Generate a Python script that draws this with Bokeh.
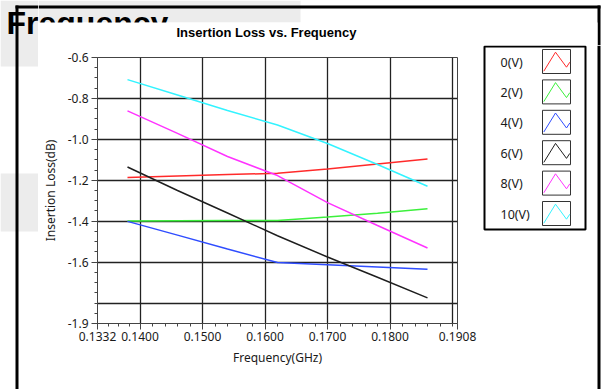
from bokeh.plotting import figure
from bokeh.layouts import row, column
from bokeh.models import Range1d, FixedTicker, PrintfTickFormatter
from bokeh.core.properties import value
from bokeh.embed import file_html
from bokeh.resources import INLINE

# ---------------- data ----------------
freq_ghz = [0.138, 0.146, 0.154, 0.162, 0.170, 0.178, 0.186]
loss_0v = [-1.186, -1.179, -1.172, -1.166, -1.145, -1.120, -1.096]
loss_2v = [-1.399, -1.398, -1.397, -1.397, -1.380, -1.361, -1.339]
loss_4v = [-1.401, -1.468, -1.536, -1.602, -1.613, -1.624, -1.635]
loss_6v = [-1.135, -1.250, -1.360, -1.471, -1.575, -1.674, -1.775]
loss_8v = [-0.861, -0.971, -1.084, -1.177, -1.309, -1.421, -1.531]
loss_10v = [-0.708, -0.783, -0.859, -0.930, -1.020, -1.123, -1.229]
series_names = ["0(V)", "2(V)", "4(V)", "6(V)", "8(V)", "10(V)"]
series_values = [loss_0v, loss_2v, loss_4v, loss_6v, loss_8v, loss_10v]
series_colors = ["#ff2a2a", "#3cf03c", "#2f4dff", "#1e1e1e", "#ff33ff", "#33f3ff"]

x_tick_values = [0.1332, 0.14, 0.15, 0.16, 0.17, 0.18, 0.1908]
x_grid_values = [0.14, 0.15, 0.16, 0.17, 0.18, 0.19]
y_tick_values = [-0.6, -0.8, -1.0, -1.2, -1.4, -1.6, -1.9]
y_grid_values = [-0.8, -1.0, -1.2, -1.4, -1.6, -1.8]

title_text = "Insertion Loss vs. Frequency"
x_label = "Frequency(GHz)"
y_label = "Insertion Loss(dB)"
page_heading = "Frequency"

GRAY = "#ececec"
W, H = 604, 389
LEFT_W, TOP_H = 38, 45
PANEL_TOP = 22
CHART_W = 439
LEG_W = W - LEFT_W - CHART_W


def deco_figure(w, h, x0, x1, y0, y1):
    f = figure(width=w, height=h, x_range=Range1d(x0, x1), y_range=Range1d(y1, y0),
               output_backend="svg", toolbar_location=None,
               x_axis_type=None, y_axis_type=None, min_border=0)
    f.min_border_left = f.min_border_right = f.min_border_top = f.min_border_bottom = 0
    f.frame_align = False
    f.xgrid.visible = False
    f.ygrid.visible = False
    f.outline_line_color = None
    f.background_fill_color = "white"
    f.border_fill_color = "white"
    return f


def rect(f, l, r, t, b, fill="black"):
    f.quad(left=[l], right=[r], top=[t], bottom=[b], fill_color=fill, line_color=None)


heading_style = dict(text_font=value("Liberation Sans"), text_font_style="bold",
                     text_font_size="32px", text_color="black",
                     text_baseline="middle", text_align="left")

# ---------------- left strip ----------------
left_fig = deco_figure(LEFT_W, H, 0, LEFT_W, 0, H)
rect(left_fig, 0, LEFT_W, 0, 66, GRAY)
rect(left_fig, 0, LEFT_W, 173, 231, GRAY)
rect(left_fig, 15, 18, 5, H)
rect(left_fig, 15, LEFT_W, 5, 8)
left_fig.text(x=[6], y=[22.5], text=[page_heading], **heading_style)

# ---------------- top strip (page header + chart title) ----------------
top_fig = deco_figure(W - LEFT_W, TOP_H, LEFT_W, W, 0, TOP_H)
rect(top_fig, LEFT_W, 300, 0, PANEL_TOP, GRAY)
rect(top_fig, LEFT_W, 600, 5, 8)
rect(top_fig, 597, 600, 5, TOP_H)
top_fig.text(x=[6], y=[22.5], text=[page_heading], **heading_style)
rect(top_fig, LEFT_W, 597, PANEL_TOP, TOP_H, "white")
top_fig.text(x=[176], y=[32], text=[title_text], text_font=value("Liberation Sans"),
             text_font_style="bold", text_font_size="13px", text_color="black",
             text_baseline="middle", text_align="left")

# ---------------- chart ----------------
p = figure(width=CHART_W, height=H - TOP_H, title=None,
           x_range=Range1d(0.1332, 0.1908), y_range=Range1d(-1.9, -0.6),
           output_backend="svg", toolbar_location=None,
           min_border_left=56, min_border_right=20, min_border_top=57 - TOP_H,
           min_border_bottom=66)
p.frame_align = False
p.background_fill_color = "white"
p.border_fill_color = "white"
p.outline_line_color = "#444444"
p.outline_line_width = 1

x_minor = [0.1349, 0.1366, 0.1383] + [round(0.14 + 0.002 * i, 4) for i in range(1, 26) if i % 5 != 0] + [0.19]
y_minor = [round(-0.6 - 0.05 * i, 2) for i in range(1, 26)]
y_minor = [v for v in y_minor if v not in y_tick_values]

p.xaxis.ticker = FixedTicker(ticks=x_tick_values, minor_ticks=x_minor)
p.yaxis.ticker = FixedTicker(ticks=y_tick_values, minor_ticks=y_minor)
p.xaxis.formatter = PrintfTickFormatter(format="%.4f")
p.yaxis.formatter = PrintfTickFormatter(format="%.1f")
p.xgrid.ticker = FixedTicker(ticks=x_grid_values)
p.ygrid.ticker = FixedTicker(ticks=y_grid_values)
for g in (p.xgrid, p.ygrid):
    g.grid_line_color = "#222222"
    g.grid_line_width = 1.3

for ax in (p.xaxis, p.yaxis):
    ax.axis_line_color = "#444444"
    ax.major_tick_line_color = "#444444"
    ax.minor_tick_line_color = "#444444"
    ax.major_tick_in = 0
    ax.minor_tick_in = 0
    ax.major_tick_out = 6
    ax.minor_tick_out = 3
    ax.major_label_text_font = "Noto Sans"
    ax.major_label_text_font_size = "12px"
    ax.major_label_text_color = "#1a1a1a"
    ax.axis_label_text_font = "Noto Sans"
    ax.axis_label_text_font_size = "12px"
    ax.axis_label_text_font_style = "normal"
    ax.axis_label_text_color = "#1a1a1a"

p.xaxis.axis_label = x_label
p.yaxis.axis_label = y_label
p.xaxis.major_label_standoff = 2
p.yaxis.major_label_standoff = 3
p.xaxis.axis_label_standoff = 5
p.yaxis.axis_label_standoff = 6

for vals, col in zip(series_values, series_colors):
    p.line(freq_ghz, vals, line_color=col, line_width=1.5)

# ---------------- legend panel ----------------
x0 = LEFT_W + CHART_W
leg = deco_figure(LEG_W, H - TOP_H, x0, W, TOP_H, H)
rect(leg, 597, 600, TOP_H, H)
leg.quad(left=[484], right=[585], top=[46], bottom=[229], fill_color="white",
         line_color="black", line_width=2)
row_tops = [49 + i * 30.4 for i in range(len(series_names))]
leg.text(x=[500] * len(series_names), y=[t + 12.5 for t in row_tops], text=series_names,
         text_font=value("Noto Sans"), text_font_size="12.5px", text_color="#1a1a1a",
         text_baseline="middle", text_align="left")
leg.quad(left=[542] * len(row_tops), right=[570] * len(row_tops), top=row_tops,
         bottom=[t + 24 for t in row_tops], fill_color=None, line_color="#333333", line_width=1)
zig_dx = [1.3, 13, 24, 27.3]
zig_dy = [21.7, 2.7, 17.7, 12.7]
leg.multi_line(xs=[[542 + d for d in zig_dx] for _ in row_tops],
               ys=[[t + d for d in zig_dy] for t in row_tops],
               line_color=series_colors, line_width=1)

layout = row(left_fig, column(top_fig, row(p, leg, spacing=0), spacing=0), spacing=0)
open("out.html", "w").write(file_html(layout, INLINE))
